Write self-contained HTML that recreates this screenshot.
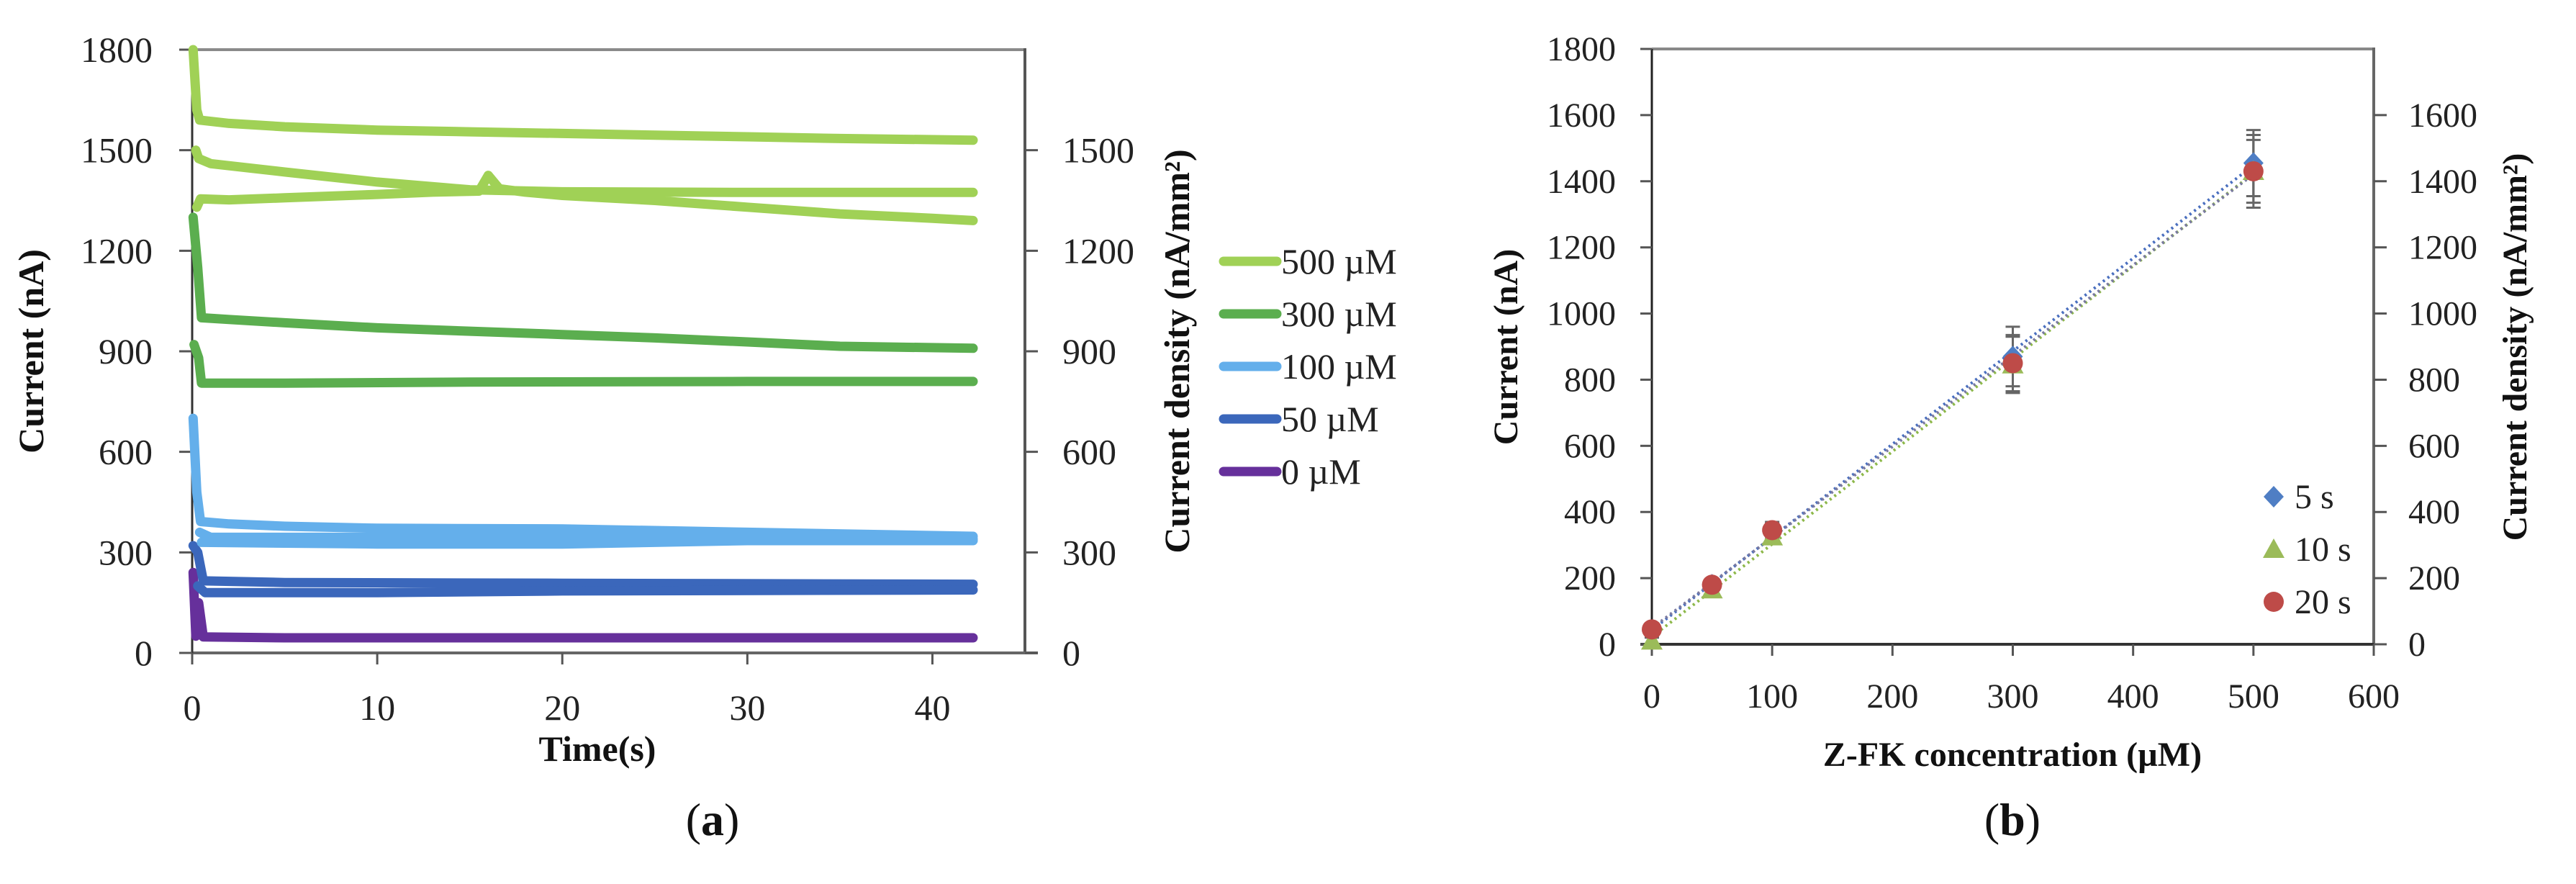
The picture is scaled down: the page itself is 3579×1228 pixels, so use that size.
<!DOCTYPE html>
<html><head><meta charset="utf-8">
<style>
html,body{margin:0;padding:0;background:#fff;}
svg{display:block;font-family:"Liberation Serif",serif;}
</style></head>
<body>
<svg id="fig" width="3579" height="1228" viewBox="0 0 3579 1228" xmlns="http://www.w3.org/2000/svg">
<g id="chartA"></g>
<g id="chartB"></g>
</svg>
<script>
// ---- Chart A data ----
const aXTicks = [0, 10, 20, 30, 40];
const aYTicks = [0, 300, 600, 900, 1200, 1500, 1800];
const aY2Ticks = [0, 300, 600, 900, 1200, 1500];
const aLegendLabels = ["500 µM", "300 µM", "100 µM", "50 µM", "0 µM"];
const aT500a = [0.05,0.25,0.4,2,5,10,15,20,25,30,35,42.2];
const aV500a = [1800,1620,1590,1580,1570,1560,1555,1550,1545,1540,1535,1530];
const aT500b = [0.2,0.35,1,5,10,15,20,30,42.2];
const aV500b = [1500,1475,1460,1435,1405,1382,1376,1374,1374];
const aT500c = [0.25,0.45,2,5,10,13,15.5,16,16.6,18,20,25,30,35,40,42.2];
const aV500c = [1330,1355,1352,1358,1368,1375,1378,1425,1385,1375,1365,1350,1330,1310,1297,1290];
const aT300a = [0.05,0.3,0.5,2,5,10,15,20,25,30,35,42.2];
const aV300a = [1300,1150,1000,995,985,970,960,950,940,928,915,909];
const aT300b = [0.1,0.35,0.5,5,15,30,42.2];
const aV300b = [920,880,805,805,808,810,810];
const aT100a = [0.05,0.25,0.45,2,5,10,20,30,42.2];
const aV100a = [700,480,392,385,378,372,370,360,348];
const aT100b = [0.4,1,10,20,42.2];
const aV100b = [360,345,345,345,340];
const aT100c = [0.5,10,20,30,42.2];
const aV100c = [330,325,325,335,335];
const aT50a = [0.05,0.3,0.6,5,20,42.2];
const aV50a = [320,300,215,210,208,205];
const aT50b = [0.3,0.7,10,20,42.2];
const aV50b = [200,180,180,185,188];
const aT0 = [0.05,0.2,0.35,0.6,5,20,42.2];
const aV0 = [240,50,150,48,45,45,45];

// ---- Chart B data ----
const bXTicks = [0,100,200,300,400,500,600];
const bYTicks = [0,200,400,600,800,1000,1200,1400,1600,1800];
const bY2Ticks = [0,200,400,600,800,1000,1200,1400,1600];
const bConc = [0,50,100,300,500];
const b5s = [40,180,340,870,1455];
const b10s = [10,165,325,845,1430];
const b20s = [45,180,345,850,1430];
const bErr5 = [10,15,25,90,100];
const bErr10 = [10,15,20,85,110];
const bErr20 = [10,15,25,85,95];
const bLegend = ["5 s","10 s","20 s"];

const NS = "http://www.w3.org/2000/svg";
function mk(parent, tag, attrs, text){
  const e = document.createElementNS(NS, tag);
  for (const k in attrs) e.setAttribute(k, attrs[k]);
  if (text !== undefined) e.textContent = text;
  parent.appendChild(e);
  return e;
}

// ===== Chart A =====
(function(){
  const g = document.getElementById('chartA');
  const X0 = 267, X1 = 1424, Y0 = 907, Y1 = 69;
  const xs = t => X0 + t/45*(X1-X0);
  const ys = v => Y0 - v/1800*(Y0-Y1);
  let e;
  e = mk(g,'line',{x1:X0,y1:Y1,x2:X1,y2:Y1,stroke:'#8a8a8a','stroke-width':4});
   
  e = mk(g,'line',{x1:X1,y1:Y1-2,x2:X1,y2:Y0+2,stroke:'#555','stroke-width':4});
   
  e = mk(g,'line',{x1:X0,y1:Y0,x2:X1+18,y2:Y0,stroke:'#666','stroke-width':4});
   
  e = mk(g,'line',{x1:X0,y1:Y1,x2:X0,y2:Y0+16,stroke:'#333','stroke-width':3});
   
  aYTicks.forEach(v=>{
    const t = mk(g,'line',{x1:X0-18,y1:ys(v),x2:X0,y2:ys(v),stroke:'#555','stroke-width':3});
     
    const l = mk(g,'text',{x:212,y:ys(v)+17,'text-anchor':'end','font-size':50,fill:'#222'},String(v));
     
  });
  aY2Ticks.forEach(v=>{
    const t = mk(g,'line',{x1:X1,y1:ys(v),x2:X1+18,y2:ys(v),stroke:'#555','stroke-width':3});
     
    const l = mk(g,'text',{x:1476,y:ys(v)+17,'text-anchor':'start','font-size':50,fill:'#222'},String(v));
     
  });
  aXTicks.forEach(v=>{
    const t = mk(g,'line',{x1:xs(v),y1:Y0,x2:xs(v),y2:Y0+16,stroke:'#555','stroke-width':3});
     
    const l = mk(g,'text',{x:xs(v),y:1000,'text-anchor':'middle','font-size':50,fill:'#222'},String(v));
     
  });
  const series = [
    [aT0,aV0,'#66309b','series-0uM'],
    [aT50a,aV50a,'#3b67bb','series-50uM-a'],[aT50b,aV50b,'#3b67bb','series-50uM-b'],
    [aT100a,aV100a,'#64afeb','series-100uM-a'],[aT100b,aV100b,'#64afeb','series-100uM-b'],[aT100c,aV100c,'#64afeb','series-100uM-c'],
    [aT300a,aV300a,'#5bae4f','series-300uM-a'],[aT300b,aV300b,'#5bae4f','series-300uM-b'],
    [aT500a,aV500a,'#a0d156','series-500uM-a'],[aT500b,aV500b,'#a0d156','series-500uM-b'],[aT500c,aV500c,'#a0d156','series-500uM-c']
  ];
  series.forEach(s=>{
    const pts = s[0].map((t,i)=>xs(t).toFixed(1)+','+ys(s[1][i]).toFixed(1)).join(' ');
    const p = mk(g,'polyline',{points:pts,fill:'none',stroke:s[2],'stroke-width':13,'stroke-linejoin':'round','stroke-linecap':'round'});
     
  });
  let t = mk(g,'text',{transform:'translate(60,488) rotate(-90)','text-anchor':'middle','font-size':50,'font-weight':'bold',fill:'#111'},'Current (nA)');
   
  t = mk(g,'text',{transform:'translate(1652,488) rotate(-90)','text-anchor':'middle','font-size':50,'font-weight':'bold',fill:'#111'},'Current density (nA/mm²)');
   
  t = mk(g,'text',{x:830,y:1057,'text-anchor':'middle','font-size':50,'font-weight':'bold',fill:'#111'},'Time(s)');
   
  t = mk(g,'text',{x:990,y:1160,'text-anchor':'middle','font-size':64,fill:'#111'},'');
   
  t.innerHTML = '(<tspan font-weight="bold">a</tspan>)';
  const lc = ['#a0d156','#5bae4f','#64afeb','#3b67bb','#66309b'];
  aLegendLabels.forEach((lab,i)=>{
    const y = 363 + i*73;
    const ln = mk(g,'line',{x1:1700,y1:y,x2:1774,y2:y,stroke:lc[i],'stroke-width':13,'stroke-linecap':'round'});
     
    const tx = mk(g,'text',{x:1780,y:y+17,'font-size':50,fill:'#222'},lab);
     
  });
})();

// ===== Chart B =====
(function(){
  const g = document.getElementById('chartB');
  const X0 = 2295, X1 = 3298, Y0 = 895, Y1 = 68;
  const xs = c => X0 + c/600*(X1-X0);
  const ys = v => Y0 - v/1800*(Y0-Y1);
  let e;
  e = mk(g,'line',{x1:X0,y1:Y1,x2:X1,y2:Y1,stroke:'#888','stroke-width':4});
   
  e = mk(g,'line',{x1:X1,y1:Y1-2,x2:X1,y2:Y0,stroke:'#666','stroke-width':4});
   
  e = mk(g,'line',{x1:X0-16,y1:Y0,x2:X1,y2:Y0,stroke:'#333','stroke-width':4});
   
  e = mk(g,'line',{x1:X0,y1:Y1,x2:X0,y2:Y0+16,stroke:'#222','stroke-width':3});
   
  bYTicks.forEach(v=>{
    const t = mk(g,'line',{x1:X0-16,y1:ys(v),x2:X0,y2:ys(v),stroke:'#555','stroke-width':3});
     
    const l = mk(g,'text',{x:2245,y:ys(v)+16,'text-anchor':'end','font-size':48,fill:'#222'},String(v));
     
  });
  bY2Ticks.forEach(v=>{
    const t = mk(g,'line',{x1:X1,y1:ys(v),x2:X1+18,y2:ys(v),stroke:'#555','stroke-width':3});
     
    const l = mk(g,'text',{x:3346,y:ys(v)+16,'text-anchor':'start','font-size':48,fill:'#222'},String(v));
     
  });
  bXTicks.forEach(v=>{
    const t = mk(g,'line',{x1:xs(v),y1:Y0,x2:xs(v),y2:Y0+16,stroke:'#555','stroke-width':3});
     
    const l = mk(g,'text',{x:xs(v),y:983,'text-anchor':'middle','font-size':48,fill:'#222'},String(v));
     
  });
  function fit(ys_){
    const n=bConc.length; let sx=0,sy=0,sxx=0,sxy=0;
    for(let i=0;i<n;i++){sx+=bConc[i];sy+=ys_[i];sxx+=bConc[i]*bConc[i];sxy+=bConc[i]*ys_[i];}
    const m=(n*sxy-sx*sy)/(n*sxx-sx*sx); return [m,(sy-m*sx)/n];
  }
  [[b5s,'#4a6fbf','trendline-5s'],[b10s,'#8db84a','trendline-10s'],[b20s,'#7a7aa0','trendline-20s']].forEach(s=>{
    const f = fit(s[0]);
    const c0 = bConc[0], c1 = bConc[bConc.length-1];
    const l = mk(g,'line',{x1:xs(c0),y1:ys(f[1]+f[0]*c0),x2:xs(c1),y2:ys(f[1]+f[0]*c1),stroke:s[1],'stroke-width':4,'stroke-dasharray':'3 5'});
     
  });
  [[b5s,bErr5],[b10s,bErr10],[b20s,bErr20]].forEach(s=>{
    bConc.forEach((c,i)=>{
      const x = xs(c), hi = ys(s[0][i]+s[1][i]), lo = ys(s[0][i]-s[1][i]);
      const eb = mk(g,'path',{d:`M${x},${hi}V${lo}M${x-10},${hi}H${x+10}M${x-10},${lo}H${x+10}`,stroke:'#666','stroke-width':3,fill:'none'});
       
    });
  });
  bConc.forEach((c,i)=>{
    const x = xs(c);
    let y = ys(b5s[i]);
    const d = mk(g,'path',{d:`M${x},${y-15}L${x+14},${y}L${x},${y+15}L${x-14},${y}Z`,fill:'#4f7ec4'});
     
    y = ys(b10s[i]);
    const tr = mk(g,'path',{d:`M${x},${y-15}L${x+15},${y+12}L${x-15},${y+12}Z`,fill:'#9bbb59'});
     
    y = ys(b20s[i]);
    const ci = mk(g,'circle',{cx:x,cy:y,r:14,fill:'#be4b48'});
     
  });
  const lx = 3159;
  let ly = 690;
  let m = mk(g,'path',{d:`M${lx},${ly-15}L${lx+14},${ly}L${lx},${ly+15}L${lx-14},${ly}Z`,fill:'#4f7ec4'});
   
  ly = 763;
  m = mk(g,'path',{d:`M${lx},${ly-15}L${lx+15},${ly+12}L${lx-15},${ly+12}Z`,fill:'#9bbb59'});
   
  ly = 836;
  m = mk(g,'circle',{cx:lx,cy:ly,r:14,fill:'#be4b48'});
   
  bLegend.forEach((lab,i)=>{
    const tx = mk(g,'text',{x:3188,y:690+i*73+16,'font-size':48,fill:'#222'},lab);
     
  });
  let t = mk(g,'text',{transform:'translate(2108,482) rotate(-90)','text-anchor':'middle','font-size':48,'font-weight':'bold',fill:'#111'},'Current (nA)');
   
  t = mk(g,'text',{transform:'translate(3510,482) rotate(-90)','text-anchor':'middle','font-size':48,'font-weight':'bold',fill:'#111'},'Current density (nA/mm²)');
   
  t = mk(g,'text',{x:2796,y:1064,'text-anchor':'middle','font-size':48,'font-weight':'bold',fill:'#111'},'Z-FK concentration (µM)');
   
  t = mk(g,'text',{x:2796,y:1160,'text-anchor':'middle','font-size':64,fill:'#111'},'');
  t.innerHTML = '(<tspan font-weight="bold">b</tspan>)';
   
})();
</script>
</body></html>
